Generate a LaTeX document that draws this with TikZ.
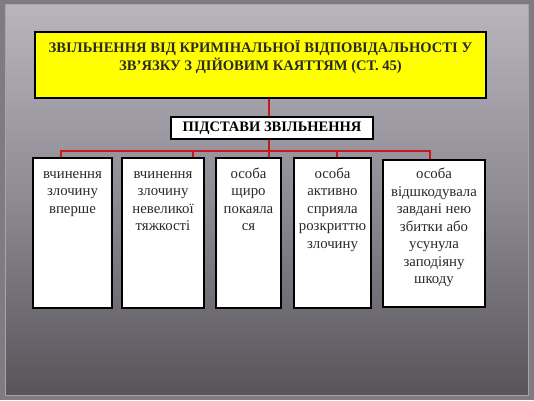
\documentclass[tikz,border=0pt]{standalone}
\usepackage{fontspec}
\setmainfont{Liberation Serif}
\definecolor{bgtop}{HTML}{B9B5BF}
\definecolor{bgmid}{HTML}{8E8A92}
\definecolor{bgbot}{HTML}{57545A}
\definecolor{frame}{HTML}{7E7B82}
\definecolor{ttl}{HTML}{FFFF00}
\definecolor{lnk}{HTML}{D0141C}
\definecolor{txt}{HTML}{2A2A2A}
\tikzset{
  titlebox/.style={draw=black, fill=ttl, line width=1.3pt, inner sep=0pt},
  subbox/.style={draw=black, fill=white, line width=1.3pt, inner sep=0pt, minimum width=202pt, minimum height=22pt, font=\fontsize{14.5}{16}\selectfont\bfseries},
  cbox/.style={draw=black, fill=white, line width=1.3pt, inner sep=0pt, font=\fontsize{14.8}{17.5}\selectfont, text=txt},
  link/.style={draw=lnk, line width=1.4pt}
}
\newcommand{\topbox}[4]{\parbox[c][#2pt][t]{#1pt}{\centering\rule{0pt}{#3pt}#4\par}}
\begin{document}
\begin{tikzpicture}[x=1pt,y=-1pt]
\useasboundingbox (0,0) rectangle (534,400);
\fill[frame] (0,0) rectangle (534,400);
\shade[shading=axis, shading angle=-35, top color=bgtop, bottom color=bgbot, middle color=bgmid] (5,4) rectangle (528,395);
\draw[black!35, line width=0.6pt] (5,4) rectangle (528,395);
% title
\node[titlebox, text=txt] (t) at (260.5,65) {\parbox[c][66pt][t]{451pt}{\centering\fontsize{14.6}{18}\selectfont\bfseries\rule{0pt}{20pt}ЗВІЛЬНЕННЯ ВІД КРИМІНАЛЬНОЇ ВІДПОВІДАЛЬНОСТІ У\\ ЗВ{\char"0027}ЯЗКУ З ДІЙОВИМ КАЯТТЯМ (СТ. 45)\par}};
\node[subbox] (s) at (272,128) {ПІДСТАВИ ЗВІЛЬНЕННЯ};
% boxes
\node[cbox] (b1) at (72.5,233) {\topbox{79}{150}{20}{вчинення\\ злочину\\ вперше}};
\node[cbox] (b2) at (163,233) {\topbox{82}{150}{20}{вчинення\\ злочину\\ невеликої\\ тяжкості}};
\node[cbox] (b3) at (248.5,233) {\topbox{65}{150}{20}{особа\\ щиро\\ покаяла\\ ся}};
\node[cbox] (b4) at (332.5,233) {\topbox{77}{150}{20}{особа\\ активно\\ сприяла\\ розкриттю\\ злочину}};
\node[cbox] (b5) at (434,233.5) {\topbox{102}{147}{18.5}{особа\\ відшкодувала\\ завдані нею\\ збитки або\\ усунула\\ заподіяну\\ шкоду}};
% links
\coordinate (top) at (269,98);
\coordinate (j1) at (61,151);
\coordinate (j2) at (193,151);
\coordinate (j3) at (269,151);
\coordinate (j4) at (337,151);
\coordinate (j5) at (430,151);
\draw[link] (t.south -| top) -- (s.north -| top);
\draw[link] (s.south -| top) -- (b3.north -| top);
\draw[link] (j1 |- b1.north) -- (j1) -- (j5) -- (j5 |- b5.north);
\draw[link] (j2) -- (j2 |- b2.north);
\draw[link] (j4) -- (j4 |- b4.north);
\end{tikzpicture}
\end{document}
